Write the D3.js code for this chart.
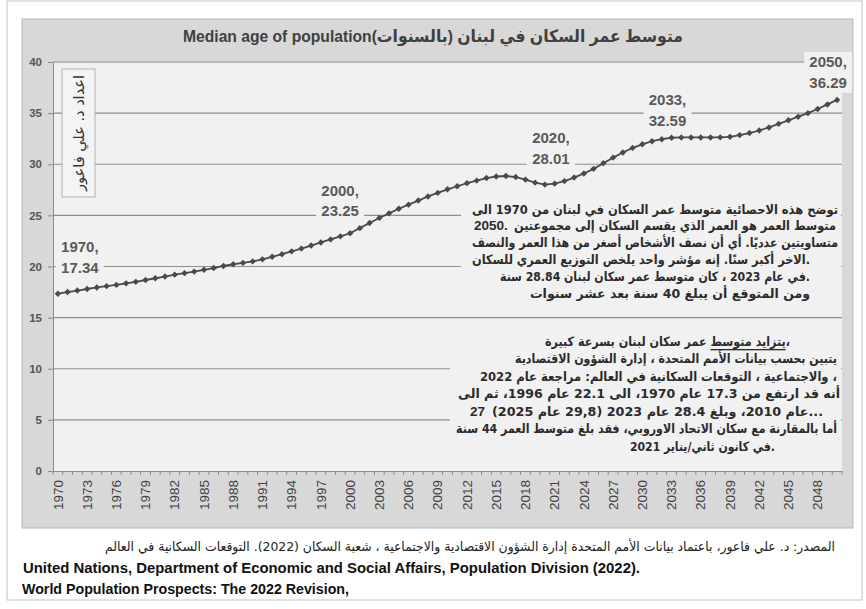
<!DOCTYPE html>
<html><head><meta charset="utf-8">
<script src="https://cdn.jsdelivr.net/npm/d3@7"></script>
<style>body{margin:0;background:#fff}svg{display:block}</style>
</head><body><svg id="c" width="866" height="609"></svg>
<script>
const years = d3.range(1970, 2051);
const medianAge = [
 17.34,17.50,17.65,17.80,17.95,18.08,18.20,18.35,18.50,18.68,
 18.85,19.02,19.20,19.35,19.50,19.68,19.85,20.05,20.22,20.35,
 20.50,20.70,20.95,21.20,21.48,21.75,22.05,22.35,22.65,22.95,
 23.25,23.75,24.25,24.75,25.20,25.65,26.05,26.45,26.85,27.20,
 27.55,27.85,28.15,28.40,28.65,28.80,28.85,28.75,28.50,28.20,
 28.01,28.10,28.35,28.70,29.10,29.55,30.10,30.65,31.15,31.60,
 31.95,32.25,32.45,32.59,32.62,32.62,32.62,32.62,32.63,32.68,
 32.85,33.05,33.30,33.60,33.95,34.30,34.65,35.00,35.40,35.85,
 36.29];
const yTicks = [0,5,10,15,20,25,30,35,40];
const xTickYears = [1970,1973,1976,1979,1982,1985,1988,1991,1994,1997,2000,2003,2006,2009,2012,2015,2018,2021,2024,2027,2030,2033,2036,2039,2042,2045,2048];
const labelledYears = [1970,2000,2020,2033,2050];
const title = "متوسط عمر السكان في لبنان (بالسنوات)Median age of population";
const authorNote = "اعداد د. علي فاعور";
// each line: [leading LTR piece, Arabic piece]
const note1 = [
 ["", "توضح هذه الاحصائية متوسط عمر السكان في لبنان من 1970 الى"],
 ["2050.", "متوسط العمر هو العمر الذي يقسم السكان إلى مجموعتين"],
 ["", "متساويتين عدديًا. أي أن نصف الأشخاص أصغر من هذا العمر والنصف"],
 ["", "الاخر أكبر سنًا. إنه مؤشر واحد يلخص التوزيع العمري للسكان."],
 ["", "في عام 2023 ، كان متوسط عمر سكان لبنان 28.84 سنة."],
 ["", "ومن المتوقع أن يبلغ 40 سنة بعد عشر سنوات"]];
const note2Underlined = "يتزايد متوسط";
const note2 = [
 ["", " عمر سكان لبنان  بسرعة كبيرة،"],
 ["", "يتبين بحسب بيانات الأمم المتحدة ، إدارة الشؤون الاقتصادية"],
 ["", "والاجتماعية ، التوقعات السكانية في العالم: مراجعة عام 2022 ،"],
 ["", "أنه  قد ارتفع من 17.3 عام 1970، الى 22.1 عام 1996، ثم الى"],
 ["27", "عام 2010، وبلغ 28.4 عام 2023 (29,8 عام 2025)..."],
 ["", "أما بالمقارنة مع سكان الاتحاد الاوروبي، فقد بلغ متوسط العمر 44 سنة"],
 ["", "في كانون ثاني/يناير 2021."]];
const sourceAr = "المصدر: د. علي فاعور، باعتماد بيانات الأمم المتحدة إدارة الشؤون الاقتصادية والاجتماعية ، شعبة السكان (2022). التوقعات السكانية في العالم";
const sourceEn1 = "United Nations, Department of Economic and Social Affairs, Population Division (2022).";
const sourceEn2 = "World Population Prospects: The 2022 Revision,";

const svg = d3.select("#c");
const PLOT = {l:53, r:842, t:62, b:471};
const plotFill = "#f1f1f1";
const ink = "#555";

// outer frame and panel
svg.append("rect").attr("x",7).attr("y",1).attr("width",855).attr("height",599)
  .attr("fill","#fff").attr("stroke","#c4c4c4");
svg.append("rect").attr("x",22).attr("y",19).attr("width",831).attr("height",509)
  .attr("fill","#d8d8d8").attr("stroke","#b8b8b8");
svg.append("rect").attr("x",PLOT.l).attr("y",PLOT.t).attr("width",PLOT.r-PLOT.l).attr("height",PLOT.b-PLOT.t)
  .attr("fill",plotFill);

const x = d3.scaleBand().domain(years).range([PLOT.l, PLOT.r]).padding(0);
const cx = yr => x(yr) + x.bandwidth()/2;
const y = d3.scaleLinear().domain([0,40]).range([PLOT.b, PLOT.t]);

// gridlines
svg.append("g").selectAll("line").data(yTicks.filter(d=>d>0)).join("line")
  .attr("x1",PLOT.l).attr("x2",PLOT.r).attr("y1",d=>y(d)).attr("y2",d=>y(d))
  .attr("stroke","#8e8e8e").attr("stroke-width",1.2);

// y axis
const ya = svg.append("g").attr("transform",`translate(${PLOT.l},0)`)
  .call(d3.axisLeft(y).tickValues(yTicks).tickSize(5).tickPadding(6));
ya.select(".domain").attr("stroke","#8a8a8a");
ya.selectAll(".tick line").attr("stroke","#8a8a8a");
ya.selectAll("text").attr("font-family","Liberation Sans, Arial, sans-serif")
  .attr("font-size",11.5).attr("font-weight","bold").attr("fill",ink);

// x axis
const xa = svg.append("g").attr("transform",`translate(0,${PLOT.b})`)
  .call(d3.axisBottom(x).tickValues(xTickYears).tickSize(0).tickPadding(0));
xa.select(".domain").attr("stroke","#8a8a8a");
xa.selectAll("text").attr("font-family","Liberation Sans, Arial, sans-serif")
  .attr("font-size",13.5).attr("fill","#404040")
  .attr("transform","translate(0,9) rotate(-90)")
  .attr("text-anchor","end").attr("dy","0.35em").attr("y",0).attr("x",0);
svg.append("g").selectAll("line").data(years.concat([null])).join("line")
  .attr("x1",d=>d===null?PLOT.r:x(d)).attr("x2",d=>d===null?PLOT.r:x(d))
  .attr("y1",PLOT.b).attr("y2",PLOT.b+4).attr("stroke","#8a8a8a");

// note boxes (background)
svg.append("rect").attr("x",461).attr("y",198).attr("width",380).attr("height",104).attr("fill",plotFill);
svg.append("rect").attr("x",450).attr("y",330).attr("width",391).attr("height",126).attr("fill",plotFill);

// author vertical box
svg.append("rect").attr("x",62).attr("y",69).attr("width",33).attr("height",128)
  .attr("fill","#f4f4f4").attr("stroke","#b3b3b3");
svg.append("text").attr("transform","translate(79,133) rotate(-90)")
  .attr("text-anchor","middle").attr("dominant-baseline","central")
  .attr("font-family","DejaVu Sans, sans-serif").attr("font-size",15).attr("fill","#333")
  .attr("textLength",116).attr("lengthAdjust","spacingAndGlyphs").text(authorNote);

// line + markers
const line = d3.line().x((d,i)=>cx(years[i])).y(d=>y(d));
svg.append("path").datum(medianAge).attr("d",line).attr("fill","none")
  .attr("stroke","#4a4a4a").attr("stroke-width",1.8);
svg.append("g").selectAll("path").data(medianAge).join("path")
  .attr("transform",(d,i)=>`translate(${cx(years[i])},${y(d)})`)
  .attr("d",d3.symbol(d3.symbolDiamond2,26)).attr("fill","#4a4a4a");

// data labels
const labelOffsets = {1970:[22,-47],2000:[-10,-43],2020:[6,-47],2033:[-4,-38],2050:[-9,-38]};
labelledYears.forEach(yr=>{
  const v = medianAge[years.indexOf(yr)];
  const [dx,dy] = labelOffsets[yr];
  const px = cx(yr)+dx, py = y(v)+dy;
  const g = svg.append("g");
  g.append("rect").attr("x",px-24).attr("y",py-10).attr("width",48).attr("height",41).attr("fill",plotFill);
  [yr+",", v.toFixed(2)].forEach((t,k)=>{
    g.append("text").attr("x",px).attr("y",py+k*20.5).attr("text-anchor","middle")
      .attr("dominant-baseline","central").attr("font-family","Liberation Sans, Arial, sans-serif")
      .attr("font-size",15).attr("font-weight","bold").attr("fill","#595959").text(t);
  });
});

// title
svg.append("text").attr("x",433).attr("y",36).attr("text-anchor","middle").attr("direction","rtl")
  .attr("dominant-baseline","central").attr("font-family","Liberation Sans, DejaVu Sans, sans-serif")
  .attr("font-size",17).attr("font-weight","bold").attr("fill","#404040")
  .attr("textLength",500).attr("lengthAdjust","spacingAndGlyphs").text(title);

// annotation text
const arFont = "DejaVu Sans, sans-serif";
function arText(x0, x1, yc, size){
  return svg.append("text").attr("x",x0).attr("y",yc).attr("dominant-baseline","central")
    .attr("text-anchor","start")
    .attr("font-family",arFont).attr("font-size",size).attr("font-weight","bold").attr("fill","#2b2b2b")
    .attr("textLength",x1-x0).attr("lengthAdjust","spacingAndGlyphs");
}
function noteLine(parts, x0, x1, yc, lead, underlined){
  let start = x0;
  if(parts[0]){
    svg.append("text").attr("x",x0).attr("y",yc).attr("dominant-baseline","central")
      .attr("font-family","Liberation Sans, Arial, sans-serif").attr("font-size",13.5).attr("font-weight","bold")
      .attr("fill","#2b2b2b").text(parts[0]);
    start = x0 + lead;
  }
  const tx = arText(start, x1, yc, 13);
  if(underlined){
    tx.append("tspan").attr("text-decoration","underline").text(underlined);
    tx.append("tspan").text(parts[1]);
  } else tx.text(parts[1]);
}
const n1pos = [[472,838],[474,836],[472,838],[472,810],[500,810],[530,810]];
const n1y = [209,225.8,242.6,259.4,276.2,293];
note1.forEach((p,i)=>noteLine(p,n1pos[i][0],n1pos[i][1],n1y[i],40,null));

const n2pos = [[545,790],[515,837],[480,837],[458,840],[470,823],[456,837],[630,775]];
const n2y = [341,358.5,376,393.5,411,428.5,446];
note2.forEach((p,i)=>noteLine(p,n2pos[i][0],n2pos[i][1],n2y[i],22,i===0?note2Underlined:null));

// footer
svg.append("text").attr("x",105).attr("y",546).attr("dominant-baseline","central")
  .attr("font-family",arFont).attr("font-size",13).attr("fill","#222")
  .attr("direction","rtl").attr("text-anchor","end")
  .attr("textLength",730).attr("lengthAdjust","spacingAndGlyphs").text(sourceAr);
svg.append("text").attr("x",23).attr("y",568).attr("dominant-baseline","central")
  .attr("font-family","Liberation Sans, Arial, sans-serif").attr("font-size",14).attr("font-weight","bold").attr("fill","#111")
  .attr("textLength",617).attr("lengthAdjust","spacingAndGlyphs").text(sourceEn1);
svg.append("text").attr("x",22).attr("y",589).attr("dominant-baseline","central")
  .attr("font-family","Liberation Sans, Arial, sans-serif").attr("font-size",14).attr("font-weight","bold").attr("fill","#111")
  .attr("textLength",327).attr("lengthAdjust","spacingAndGlyphs").text(sourceEn2);
</script></body></html>
